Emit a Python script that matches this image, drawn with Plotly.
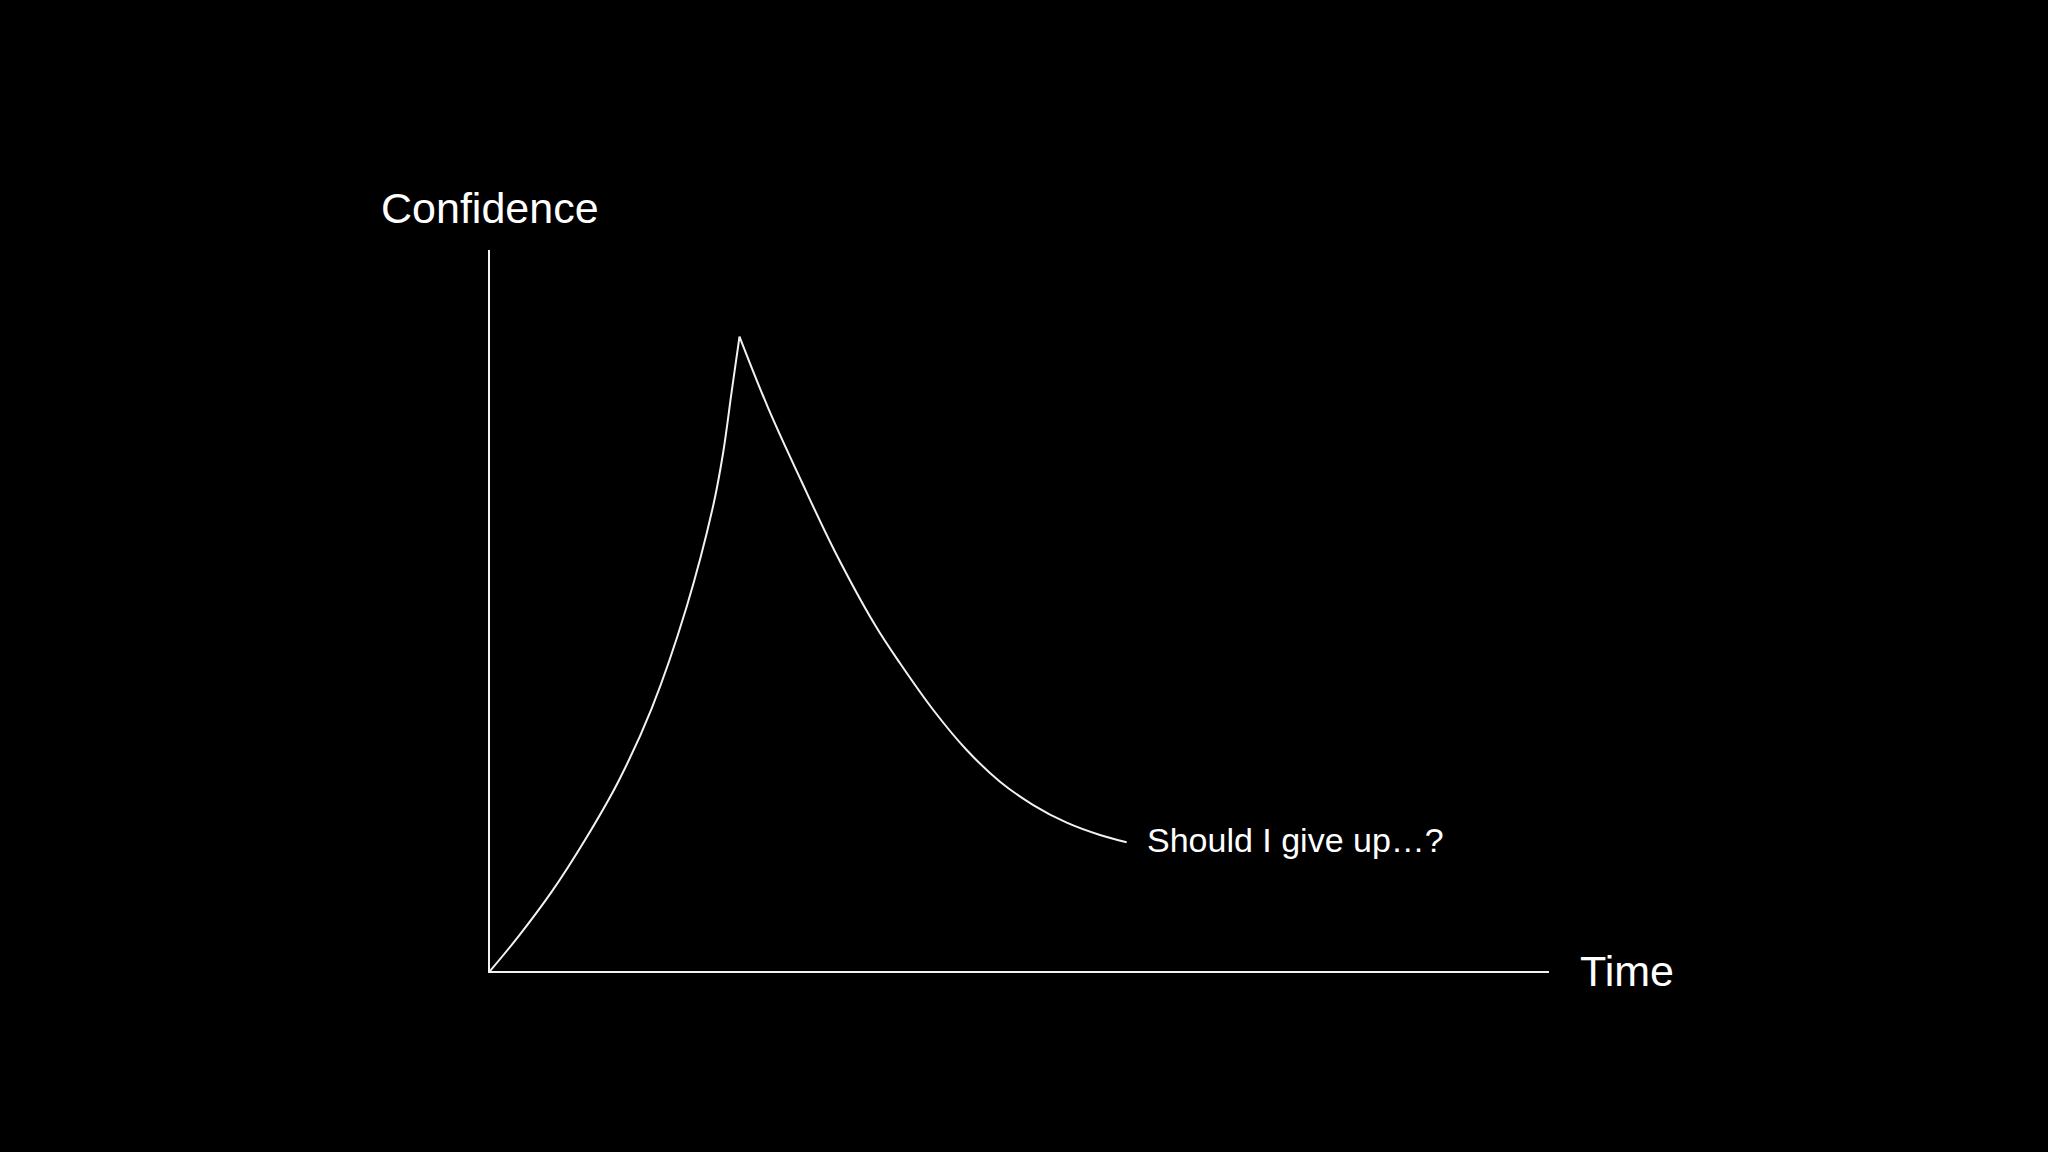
import plotly.graph_objects as go

# confidence curve (time 0-100, confidence 0-100)
rise_x = [0, 2.67, 5.83, 8.97, 12.11, 15.27, 18.57, 21.09, 22.03, 22.82, 23.56]
rise_y = [0, 4.76, 11.00, 18.17, 26.26, 36.44, 50.53, 64.63, 72.02, 80.35, 88.00]

fall_x = [23.56, 26.28, 29.43, 32.58, 36.36, 38.72, 41.86, 45.01, 48.16, 51.30, 54.46, 57.60, 60.12]
fall_y = [88.00, 78.04, 67.86, 58.16, 47.99, 42.68, 36.20, 30.65, 26.26, 23.02, 20.57, 18.86, 17.85]

y_label = 'Confidence'
x_label = 'Time'
end_label = 'Should I give up…?'

line_style = dict(color = '#f2f2f2', width = 2, shape = 'spline', smoothing = 1)

fig = go.Figure()
fig.add_trace(go.Scatter(x = rise_x, y = rise_y, mode = 'lines', line = line_style, cliponaxis = False))
fig.add_trace(go.Scatter(x = fall_x, y = fall_y, mode = 'lines', line = line_style, cliponaxis = False))

font = 'Liberation Sans, Arial, sans-serif'

fig.update_layout(
    width = 2048,
    height = 1152,
    paper_bgcolor = 'black',
    plot_bgcolor = 'black',
    showlegend = False,
    margin = dict(l = 490, r = 499, t = 250, b = 181, pad = 0),
    xaxis = dict(
        range = [0, 100], showgrid = False, zeroline = False,
        showticklabels = False, ticks = '',
        showline = True, linecolor = '#f2f2f2', linewidth = 2
    ),
    yaxis = dict(
        range = [0, 100], showgrid = False, zeroline = False,
        showticklabels = False, ticks = '',
        showline = True, linecolor = '#f2f2f2', linewidth = 2
    ),
    annotations = [
        # labels outside the axes, so paper coords
        dict(x = 0, y = 1.058, xref = 'paper', yref = 'paper', text = y_label,
             showarrow = False, xanchor = 'center', yanchor = 'middle',
             font = dict(family = font, size = 43, color = 'white')),
        dict(x = 1.027, y = 0, xref = 'paper', yref = 'paper', text = x_label,
             showarrow = False, xanchor = 'left', yanchor = 'middle',
             font = dict(family = font, size = 43, color = 'white')),
        dict(x = 61.85, y = 18.2, xref = 'x', yref = 'y', text = end_label,
             showarrow = False, xanchor = 'left', yanchor = 'middle',
             font = dict(family = font, size = 34, color = 'white')),
    ]
)

fig.write_html(
    'out.html',
    config = {'displayModeBar': False},
    post_script = "document.body.style.margin='0';document.body.style.background='black';"
)
